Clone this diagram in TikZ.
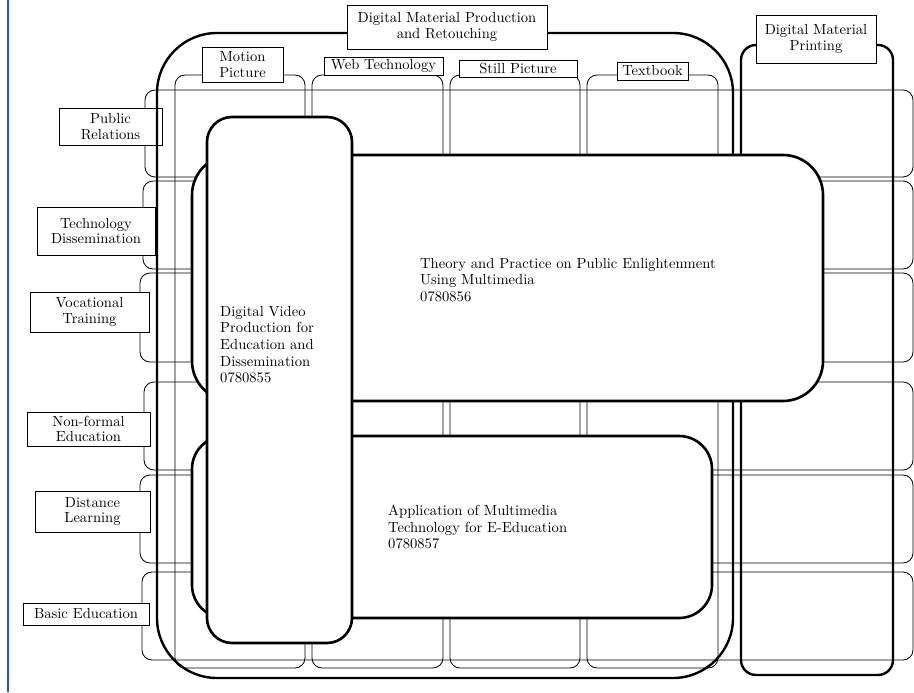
\documentclass[tikz,border=0pt]{standalone}
\usepackage{fontspec}
\setmainfont{lmroman10-regular.otf}
\usepackage{tikz}
\usetikzlibrary{positioning}
\definecolor{edgeblue}{RGB}{40,80,200}

\begin{document}
\begin{tikzpicture}[x=1pt, y=-1pt,
  every node/.style={font=\fontsize{14.6}{15.5}\selectfont},
  band/.style={line width=0.8pt, rounded corners=10pt},
  frame/.style={line width=2.4pt},
  lbl/.style={draw, fill=white, line width=0.8pt, align=center, inner sep=0pt},
  course/.style={draw, fill=white, line width=2.6pt},
  ctext/.style={align=left, anchor=north west, inner sep=0pt, font=\fontsize{14.6}{16.6}\selectfont}]
  \useasboundingbox (0,0) rectangle (914,693);
  \draw[edgeblue, line width=1.2pt] (8,0) -- (8,692);

  % target groups (rows)
  \foreach \l/\t/\b in {145/90/177, 143/181/269, 140/273/362, 144/382/470, 140/475/563, 142/572/660}
    \draw[band] (\l,\t) rectangle (913,\b);
  \node[lbl, minimum width=103pt, minimum height=37pt] (pubrel) at (110.5,126.5) {Public\\Relations};
  \node[lbl, minimum width=118pt, minimum height=48pt] (techdiss) at (96,231) {Technology\\Dissemination};
  \node[lbl, minimum width=119pt, minimum height=40pt] (voctrain) at (89.5,312) {Vocational\\Training};
  \node[lbl, minimum width=123pt, minimum height=34pt] (nonformal) at (88.5,429) {Non-formal\\Education};
  \node[lbl, minimum width=115pt, minimum height=41pt] (distlearn) at (92.5,511.5) {Distance\\Learning};
  \node[lbl, minimum width=126pt, minimum height=22pt] (basicedu) at (86,614) {Basic Education};

  % media (columns)
  \foreach \l/\r in {175/305, 312/443, 450/580, 587/718}
    \draw[band] (\l,75) rectangle (\r,668);
  \node[lbl, minimum width=81pt, minimum height=35pt] (motion) at (242.5,64.5) {Motion\\Picture};
  \node[lbl, minimum width=119pt, minimum height=18pt] (webtech) at (383.5,66) {Web Technology};
  \node[lbl, minimum width=118pt, minimum height=17pt] (still) at (518,68.5) {Still Picture};
  \node[lbl, minimum width=71pt, minimum height=18pt] (textbook) at (652.5,71) {Textbook};

  % production and printing
  \draw[frame, rounded corners=60pt] (157,33) rectangle (733,678);
  \draw[frame, rounded corners=15pt] (741,45) rectangle (893,675);
  \node[lbl, minimum width=200pt, minimum height=44pt] (production) at (447,27) {Digital Material Production\\and Retouching};
  \node[lbl, minimum width=120pt, minimum height=48pt] (printing) at (816,39) {Digital Material\\Printing};

  % courses
  \draw[course, rounded corners=40pt] (192,155) rectangle (823,401);
  \draw[course, rounded corners=33pt] (192,436) rectangle (712,618);
  \draw[course, rounded corners=25pt] (207,117) rectangle (352,643);
  \node[ctext] (theory) at (420,258) {Theory and Practice on Public Enlightenment\\Using Multimedia\\0780856};
  \node[ctext] (video) at (220,306) {Digital Video\\Production for\\Education and\\Dissemination\\0780855};
  \node[ctext] (eedu) at (388,505) {Application of Multimedia\\Technology for E-Education\\0780857};
\end{tikzpicture}
\end{document}
